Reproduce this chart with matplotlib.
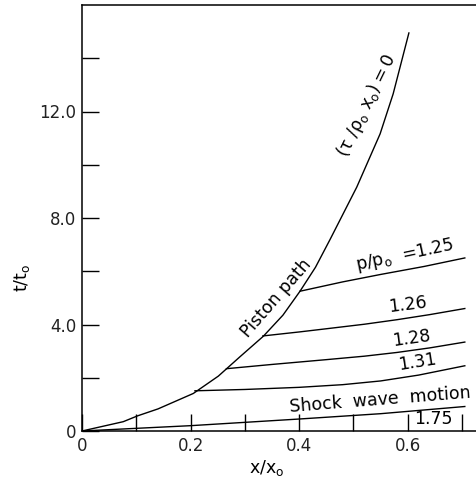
import matplotlib
matplotlib.use("Agg")
import matplotlib.pyplot as plt
import numpy as np

# piston path, (tau/rho_o x_o) = 0
piston_x = [0.0, 0.076, 0.1025, 0.14, 0.205, 0.251, 0.291, 0.334, 0.37, 0.4015, 0.43, 0.457, 0.506, 0.549, 0.573, 0.602]
piston_t = [0.0, 0.35, 0.57, 0.83, 1.41, 2.06, 2.79, 3.56, 4.35, 5.25, 6.15, 7.2, 9.16, 11.16, 12.66, 14.95]

# constant pressure lines p/p_o
p125_x = [0.4015, 0.48, 0.55, 0.63, 0.705]
p125_t = [5.25, 5.6, 5.88, 6.18, 6.5]
p126_x = [0.333, 0.40, 0.45, 0.52, 0.58, 0.64, 0.705]
p126_t = [3.57, 3.72, 3.84, 4.01, 4.18, 4.37, 4.6]
p128_x = [0.266, 0.35, 0.45, 0.52, 0.58, 0.64, 0.705]
p128_t = [2.34, 2.5, 2.68, 2.81, 2.95, 3.12, 3.34]
p131_x = [0.208, 0.30, 0.40, 0.48, 0.55, 0.62, 0.705]
p131_t = [1.51, 1.56, 1.64, 1.74, 1.88, 2.1, 2.45]

# shock wave motion
shock_x = [0.0, 0.2, 0.4, 0.55, 0.705]
shock_t = [0.0, 0.2, 0.45, 0.65, 0.92]

xticks = [0.0, 0.1, 0.2, 0.3, 0.4, 0.5, 0.6, 0.7]
xticklabels = ["0", "", "0.2", "", "0.4", "", "0.6", ""]
yticks = [0, 2, 4, 6, 8, 10, 12, 14]
yticklabels = ["0", "", "4.0", "", "8.0", "", "12.0", ""]

plt.rcParams['font.family'] = ['DejaVu Sans']
fig = plt.figure(figsize=(4.77, 4.84), dpi=100)
ax = fig.add_axes([82/477, 53/484, 395/477, 426/484])

lw = 1.0
ax.plot(piston_x, piston_t, color='black', lw=lw)
for xs, ts in [(p125_x, p125_t), (p126_x, p126_t), (p128_x, p128_t), (p131_x, p131_t), (shock_x, shock_t)]:
    ax.plot(xs, ts, color='black', lw=lw)

ax.set_xlim(0, 395/543)
ax.set_ylim(0, 16)
ax.spines['right'].set_visible(False)
for s in ['left', 'top', 'bottom']:
    ax.spines[s].set_linewidth(1.1)

ax.set_xticks(xticks)
ax.set_xticklabels(xticklabels)
ax.set_yticks(yticks)
ax.set_yticklabels(yticklabels)
ax.tick_params(direction='in', length=12, width=1.0, labelsize=12, pad=4, labelcolor='#222222')

fs = 12.5
ax.text(0.525, 12.2, r'$\mathregular{(\tau\ /\rho_o\ x_o)=0}$', fontsize=fs,
        rotation=64, ha='center', va='center', rotation_mode='anchor')
ax.text(0.357, 5.0, 'Piston path', fontsize=fs, rotation=49,
        ha='center', va='center', rotation_mode='anchor')
ax.text(0.595, 6.61, r'$\mathregular{p/p_o}$  =1.25', fontsize=fs, rotation=12,
        ha='center', va='center', rotation_mode='anchor')
ax.text(0.600, 4.73, '1.26', fontsize=fs, rotation=7,
        ha='center', va='center', rotation_mode='anchor')
ax.text(0.606, 3.49, '1.28', fontsize=fs, rotation=8,
        ha='center', va='center', rotation_mode='anchor')
ax.text(0.617, 2.59, '1.31', fontsize=fs, rotation=9,
        ha='center', va='center', rotation_mode='anchor')
ax.text(0.549, 1.16, 'Shock  wave  motion', fontsize=fs, rotation=4.5,
        ha='center', va='center', rotation_mode='anchor')
ax.text(0.648, 0.45, '1.75', fontsize=fs, ha='center', va='center')

fig.text(267/477, 1 - 468/484, r'$\mathregular{x/x_o}$', fontsize=fs, ha='center', va='center')
fig.text(22/477, 1 - 278/484, r'$\mathregular{t/t_o}$', fontsize=fs, ha='center', va='center', rotation=90)

plt.savefig('out.png', dpi=100)
